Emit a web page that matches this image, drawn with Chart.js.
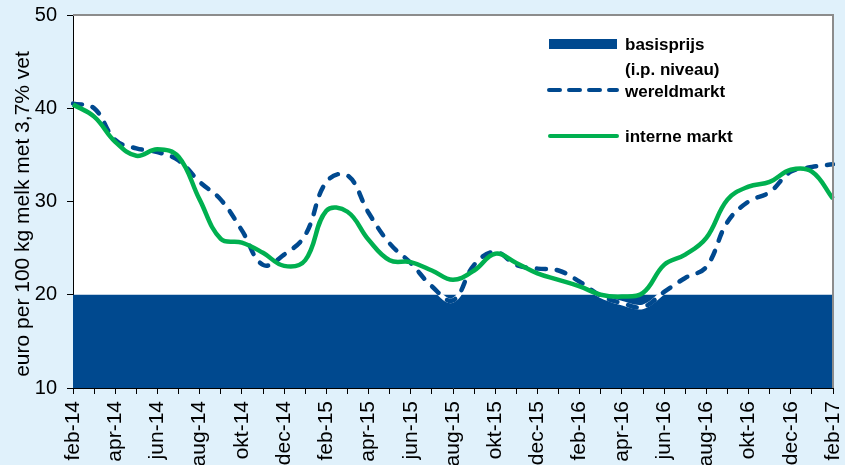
<!DOCTYPE html>
<html>
<head>
<meta charset="utf-8">
<script src="https://cdn.jsdelivr.net/npm/chart.js@4/dist/chart.umd.min.js"></script>
<style>
  html, body { margin:0; padding:0; background:#e0f1fb; }
  #wrap { width:845px; height:465px; position:relative; }
</style>
</head>
<body>
<div id="wrap"><canvas id="melkChart" width="845" height="465"></canvas></div>
<script>
// ===============================
// DATA
// ===============================

const maanden = [
  "feb-14","mrt-14","apr-14","mei-14","jun-14","jul-14","aug-14","sep-14","okt-14","nov-14","dec-14",
  "jan-15","feb-15","mrt-15","apr-15","mei-15","jun-15","jul-15","aug-15","sep-15","okt-15","nov-15","dec-15",
  "jan-16","feb-16","mrt-16","apr-16","mei-16","jun-16","jul-16","aug-16","sep-16","okt-16","nov-16","dec-16",
  "jan-17","feb-17"
];

const wereldmarkt = [
  40.5, 40.0, 36.6, 35.7, 35.3, 34.4, 32.1, 30.2, 26.9, 23.2, 24.3,
  26.4, 32.1, 32.8, 28.8, 25.5, 23.4, 20.9, 19.4, 23.2, 24.6, 23.2, 22.8,
  22.6, 21.4, 19.9, 19.1, 18.7, 20.3, 21.8, 23.0, 27.8, 30.0, 31.0, 33.2,
  33.7, 34.0
];

const interneMarkt = [
  40.4, 39.1, 36.4, 34.9, 35.6, 34.8, 30.2, 26.0, 25.6, 24.5, 23.1,
  23.7, 29.0, 28.9, 25.9, 23.7, 23.5, 22.6, 21.6, 22.6, 24.4, 23.4, 22.3,
  21.6, 20.9, 20.0, 19.8, 20.2, 23.2, 24.3, 26.1, 30.2, 31.6, 32.1, 33.4,
  33.2, 30.3
];

const basisprijs = maanden.map(() => 20);

const yTicks = [10, 20, 30, 40, 50];

const yTitel = "euro per 100 kg melk met 3,7% vet";

// ===============================
// KLEUREN
// ===============================

const BLAUW = "#00498f";
const GROEN = "#00b050";
const FONT = "'Liberation Sans', Arial, sans-serif";

// ===============================
// PLUGIN: achtergrond, titel, legenda
// ===============================

const plotPlugin = {
  id: "plotPlugin",
  beforeDraw(chart){
    const {ctx, chartArea:a} = chart;
    ctx.save();
    ctx.fillStyle = "#ffffff";
    ctx.fillRect(a.left, a.top, a.right - a.left, a.bottom - a.top);
    ctx.restore();
  },
  afterDraw(chart){
    const {ctx, chartArea:a} = chart;
    ctx.save();

    // grijze rand boven en rechts
    ctx.strokeStyle = "#8c8c8c";
    ctx.lineWidth = 2;
    ctx.beginPath();
    ctx.moveTo(a.left, a.top);
    ctx.lineTo(a.right, a.top);
    ctx.lineTo(a.right, a.bottom);
    ctx.stroke();

    // y-as titel
    ctx.save();
    ctx.translate(29, 214);
    ctx.rotate(-Math.PI / 2);
    ctx.fillStyle = "#000";
    ctx.font = "21px " + FONT;
    ctx.textAlign = "center";
    ctx.textBaseline = "alphabetic";
    ctx.fillText(yTitel, 0, 0);
    ctx.restore();

    // legenda
    ctx.fillStyle = BLAUW;
    ctx.fillRect(549, 39, 68, 10);

    ctx.lineCap = "round";
    ctx.lineWidth = 4;
    ctx.strokeStyle = BLAUW;
    ctx.setLineDash([11, 9]);
    ctx.beginPath();
    ctx.moveTo(549, 90);
    ctx.lineTo(617, 90);
    ctx.stroke();

    ctx.setLineDash([]);
    ctx.strokeStyle = GROEN;
    ctx.beginPath();
    ctx.moveTo(550, 136);
    ctx.lineTo(617, 136);
    ctx.stroke();

    ctx.fillStyle = "#000";
    ctx.font = "bold 17px " + FONT;
    ctx.textBaseline = "alphabetic";
    ctx.fillText("basisprijs", 625, 50);
    ctx.fillText("(i.p. niveau)", 625, 75);
    ctx.fillText("wereldmarkt", 625, 97);
    ctx.fillText("interne markt", 625, 142);

    ctx.restore();
  }
};

function geenOverhang(scale){
  scale.paddingLeft = 0;
  scale.paddingRight = 0;
  scale.paddingTop = 0;
  scale.paddingBottom = 0;
}

// ===============================
// CHART
// ===============================

const ctx = document.getElementById("melkChart").getContext("2d");

const chart = new Chart(ctx, {
  type: "line",
  data: {
    labels: maanden,
    datasets: [
      {
        label: "interne markt",
        data: interneMarkt,
        borderColor: GROEN,
        borderWidth: 4.5,
        pointRadius: 0,
        tension: 0.4,
        fill: false,
        order: 0
      },
      {
        label: "wereldmarkt",
        data: wereldmarkt,
        borderColor: BLAUW,
        borderWidth: 4.5,
        borderDash: [9, 11],
        borderCapStyle: "round",
        pointRadius: 0,
        tension: 0.4,
        fill: false,
        order: 1
      },
      {
        label: "wereldmarkt-onder",
        data: wereldmarkt,
        borderColor: "#ffffff",
        borderWidth: 4.5,
        pointRadius: 0,
        tension: 0.4,
        fill: false,
        order: 2
      },
      {
        label: "basisprijs",
        data: basisprijs,
        borderWidth: 0,
        borderColor: BLAUW,
        backgroundColor: BLAUW,
        pointRadius: 0,
        tension: 0,
        fill: "start",
        order: 3
      }
    ]
  },
  options: {
    responsive: false,
    animation: false,
    layout: { padding: { top: 15, right: 12, left: 0, bottom: 0 } },
    plugins: {
      legend: { display: false },
      tooltip: { enabled: false }
    },
    scales: {
      x: {
        offset: false,
        grid: { drawOnChartArea: false, drawTicks: true, tickLength: 6, color: "#000" },
        border: { color: "#000", width: 1 },
        ticks: {
          autoSkip: false,
          maxRotation: 90,
          minRotation: 90,
          padding: 7,
          color: "#000",
          font: { family: FONT, size: 21 },
          callback: (v, i) => (i % 2 === 0 ? maanden[i] : "")
        },
        afterFit(scale){ scale.height = 77; geenOverhang(scale); }
      },
      y: {
        min: yTicks[0],
        max: yTicks[yTicks.length - 1],
        afterBuildTicks(scale){ scale.ticks = yTicks.map(v => ({ value: v })); },
        grid: { drawOnChartArea: false, drawTicks: true, tickLength: 6, color: "#000" },
        border: { color: "#000", width: 1 },
        ticks: {
          padding: 10,
          color: "#000",
          font: { family: FONT, size: 20 }
        },
        title: { display: false },
        afterFit(scale){ scale.width = 73; geenOverhang(scale); }
      }
    }
  },
  plugins: [plotPlugin]
});
</script>
</body>
</html>
